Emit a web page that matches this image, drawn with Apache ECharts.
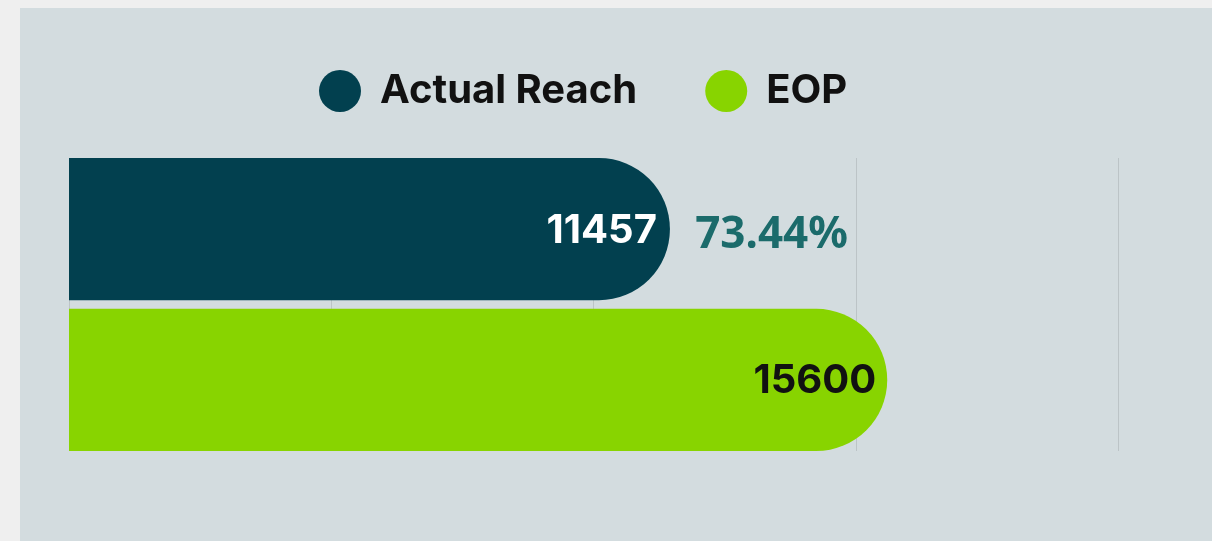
<!DOCTYPE html>
<html>
<head>
<meta charset="utf-8">
<script src="https://cdn.jsdelivr.net/npm/echarts@6/dist/echarts.min.js"></script>
<style>
  html, body { margin: 0; padding: 0; background: #efefef; }
  #panel { position: absolute; left: 20px; top: 8px; right: 0; bottom: 0; background: #d3dcdf; }
  #main { position: absolute; left: 0; top: 0; width: 1212px; height: 541px; }
</style>
</head>
<body>
<div id="panel"></div>
<div id="main"></div>
<script>
var categories = ['Reach'];
var seriesNames = ['Actual Reach', 'EOP'];
var actualReach = [11457];
var eop = [15600];
var axisTicks = [0, 5000, 10000, 15000, 20000];

// percentage of actual reach against EOP
var pct = (actualReach[0] / eop[0] * 100).toFixed(2) + '%';

var chart = echarts.init(document.getElementById('main'));
var option = {
    color: ['#02404f', '#88d400'],
    legend: {
        data: seriesNames,
        left: 314,
        top: 65,
        icon: 'circle',
        itemWidth: 42,
        itemHeight: 42,
        itemGap: 68,
        textStyle: {
            fontFamily: 'Inter',
            fontWeight: 700,
            fontSize: 40,
            color: '#111111',
            padding: [0, 0, 0, 14]
        }
    },
    grid: {
        left: 69,
        right: 94,
        top: 158,
        bottom: 90,
        containLabel: false
    },
    xAxis: {
        type: 'value',
        min: axisTicks[0],
        max: axisTicks[axisTicks.length - 1],
        interval: axisTicks[1] - axisTicks[0],
        axisLine: { show: false },
        axisTick: { show: false },
        axisLabel: { show: false },
        splitLine: { lineStyle: { color: '#bcc4c7', width: 1 } }
    },
    yAxis: {
        type: 'category',
        data: categories,
        inverse: true,
        axisLine: { show: false },
        axisTick: { show: false },
        axisLabel: { show: false }
    },
    series: [
        {
            name: seriesNames[0],
            type: 'bar',
            data: actualReach,
            barGap: '6%',
            barCategoryGap: 0,
            itemStyle: { borderRadius: [0, 71, 71, 0] },
            label: {
                show: true,
                position: 'insideRight',
                distance: 13,
                offset: [191, 2],
                formatter: function (p) { return '{v|' + p.value + '}{s| }{p|' + pct + '}'; },
                rich: {
                    v: { fontFamily: 'Inter', fontWeight: 700, fontSize: 40, color: '#ffffff' },
                    s: { width: 40, fontSize: 40 },
                    p: { width: 151, padding: [8, 0, 0, 0], fontFamily: 'Noto Sans', fontWeight: 700, fontSize: 44, color: '#1b6b6b' }
                }
            }
        },
        {
            name: seriesNames[1],
            type: 'bar',
            data: eop,
            barGap: '6%',
            barCategoryGap: 0,
            itemStyle: { borderRadius: [0, 71, 71, 0] },
            label: {
                show: true,
                position: 'insideRight',
                distance: 11,
                offset: [0, 1],
                fontFamily: 'Inter',
                fontWeight: 700,
                fontSize: 40,
                color: '#111111'
            }
        }
    ]
};
chart.setOption(option);
</script>
</body>
</html>
